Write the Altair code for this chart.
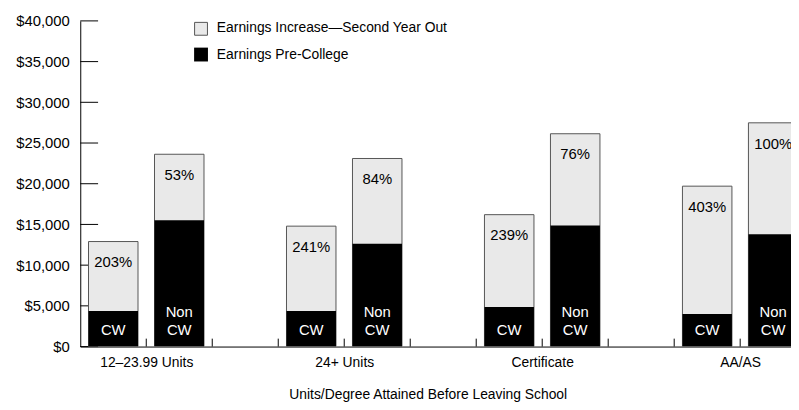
import json
import altair as alt
import pandas as pd

categories = ["12–23.99 Units", "24+ Units", "Certificate", "AA/AS"]
cw_pre = [4380, 4380, 4860, 4010]
cw_total = [12900, 14790, 16200, 19700]
noncw_pre = [15520, 12640, 14870, 13810]
noncw_total = [23620, 23100, 26140, 27480]
cw_pct = ["203%", "241%", "239%", "403%"]
noncw_pct = ["53%", "84%", "76%", "100%"]
y_ticks = [0, 5000, 10000, 15000, 20000, 25000, 30000, 35000, 40000]
legend_labels = ["Earnings Increase—Second Year Out", "Earnings Pre-College"]
x_title = "Units/Degree Attained Before Leaving School"

FONT = "Liberation Sans"
LIGHT = "#e9e9e9"
EDGE = "#555555"

rows = []
for i, cat in enumerate(categories):
    pairs = [("CW", cw_pre[i], cw_total[i], cw_pct[i]),
             ("Non CW", noncw_pre[i], noncw_total[i], noncw_pct[i])]
    for j, (grp, pre, tot, pct) in enumerate(pairs):
        slot = 3 * i + j
        rows.append(dict(cat=cat, grp=grp, pre=pre, total=tot, pct=pct,
                         x0=slot + 0.125, x1=slot + 0.875, xc=slot + 0.5, zero=0))
df = pd.DataFrame(rows)

n_slots = 3 * len(categories) - 1
bounds = pd.DataFrame({"b": list(range(1, n_slots)), "zero": 0})
yt = pd.DataFrame({"t": y_ticks, "x0": 0.0})

xscale = alt.Scale(domain=[0, 10.77], nice=False, zero=False)
yscale = alt.Scale(domain=[0, 40000], nice=False)

label_expr = "%s[floor(datum.value/3)]" % json.dumps(categories, ensure_ascii=False)

X_AX = alt.Axis(values=[1, 4, 7, 10], labelExpr=label_expr, tickSize=0,
                grid=False, domainColor="#000", domainWidth=1,
                labelFont=FONT, labelFontSize=14, labelColor="#000",
                labelPadding=9, title=x_title, titleFont=FONT,
                titleFontSize=14, titleFontWeight="normal", titleColor="#000",
                titlePadding=18, titleX=351, titleAlign="center", titleAnchor="start")
Y_AX = alt.Axis(values=y_ticks, format="$,d", tickSize=0, grid=False,
                domainColor="#000", domainWidth=1, labelFont=FONT,
                labelFontSize=15, labelColor="#000", labelPadding=11,
                title=None)


def X(f):
    return alt.X(f, scale=xscale, axis=X_AX, title=x_title)


def Y(f):
    return alt.Y(f, scale=yscale, axis=Y_AX, title=None)


base = alt.Chart(df)

yticks = alt.Chart(yt).mark_rule(color="#000", strokeWidth=1).encode(
    y=Y("t:Q"), x=alt.value(0), x2=alt.value(18),
)

light = base.mark_bar(color=LIGHT, stroke=EDGE, strokeWidth=1, clip=True).encode(
    x=X("x0:Q"), x2="x1:Q", y=Y("zero:Q"), y2="total:Q",
)

dark = base.mark_bar(color="#000", clip=True).encode(
    x=X("x0:Q"), x2="x1:Q", y=Y("zero:Q"), y2="pre:Q",
)

pct_text = base.mark_text(font=FONT, fontSize=15, color="#000", baseline="middle",
                          dy=21, clip=True).encode(
    x=X("xc:Q"), y=Y("total:Q"), text="pct:N",
)

cw_text = base.mark_text(font=FONT, fontSize=15, color="#fff", baseline="middle",
                         dy=-17, clip=True).encode(
    x=X("xc:Q"), y=Y("zero:Q"), text=alt.value("CW"),
)

non_text = base.transform_filter(alt.datum.grp == "Non CW").mark_text(
    font=FONT, fontSize=15, color="#fff", baseline="middle", dy=-35, clip=True).encode(
    x=X("xc:Q"), y=Y("zero:Q"), text=alt.value("Non"),
)

xticks = alt.Chart(bounds).mark_rule(color="#000", strokeWidth=1).encode(
    x=X("b:Q"), y=alt.value(321), y2=alt.value(329),
)

one = pd.DataFrame({"a": [0]})
sq1 = alt.Chart(one).mark_rect(
    fill=LIGHT, stroke=EDGE, strokeWidth=1).encode(
    x=alt.value(115.5), x2=alt.value(128.5), y=alt.value(1.5), y2=alt.value(14.5))
sq2 = alt.Chart(one).mark_rect(fill="#000").encode(
    x=alt.value(115), x2=alt.value(129), y=alt.value(27), y2=alt.value(41))
t1 = alt.Chart(one).mark_text(
    font=FONT, fontSize=14, color="#000", align="left", baseline="middle").encode(
    x=alt.value(138), y=alt.value(7.5), text=alt.value(legend_labels[0]))
t2 = alt.Chart(one).mark_text(
    font=FONT, fontSize=14, color="#000", align="left", baseline="middle").encode(
    x=alt.value(138), y=alt.value(34), text=alt.value(legend_labels[1]))

chart = alt.layer(yticks, light, dark, pct_text, cw_text, non_text, xticks,
                  sq1, sq2, t1, t2).properties(
    width=718, height=329,
    background="#ffffff",
    autosize=alt.AutoSizeParams(type="none"),
    padding={"left": 73, "top": 11, "right": 0, "bottom": 56},
).configure_view(stroke=None)

chart.save("out.html", embed_options={"renderer": "svg", "actions": False})
